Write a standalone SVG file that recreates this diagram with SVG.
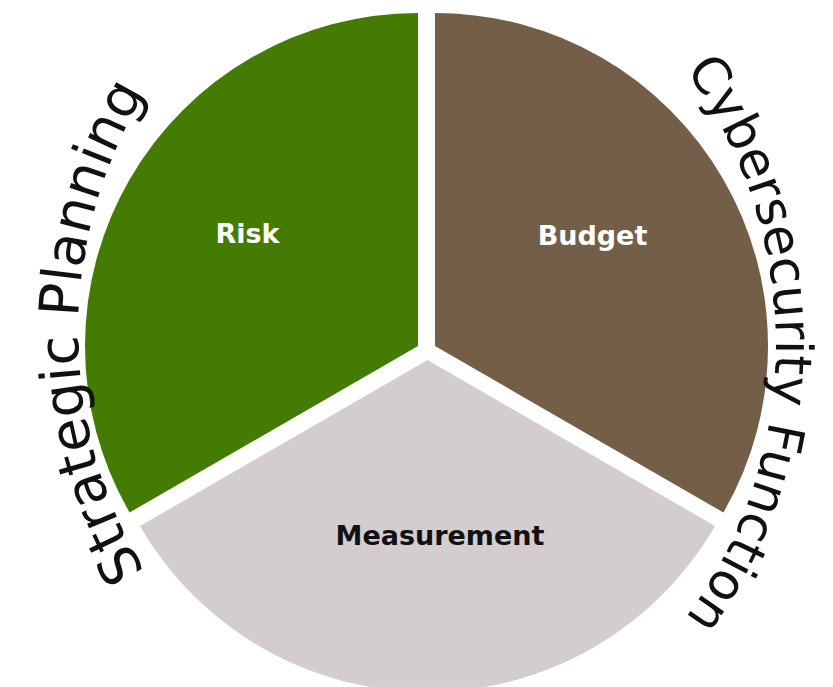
<svg xmlns="http://www.w3.org/2000/svg" width="833" height="687" viewBox="0 0 833 687">
  <style>
    .lbl { font-family: "DejaVu Sans", Verdana, sans-serif; font-weight: bold; font-size: 27px; text-anchor: middle; }
    .arc { font-family: "DejaVu Sans", Verdana, sans-serif; fill: #111111; }
  </style>
  <defs>
    <path id="leftArc" d="M 538,792 A 460,460 0 0 1 538,-128"/>
    <path id="rightArc" d="M 316,-116 A 460,460 0 0 1 316,804"/>
  </defs>
  <rect width="833" height="687" fill="#ffffff"/>
  <g id="risk">
    <path d="M 418,346 L 418,13 A 333,333 0 0 0 129.6,512.5 Z" fill="#447c03"/>
    <text class="lbl" x="247.5" y="243" fill="#ffffff">Risk</text>
  </g>
  <g id="budget">
    <path d="M 435,346 L 435,13 A 333,333 0 0 1 723.4,512.5 Z" fill="#735f48"/>
    <text class="lbl" x="592.5" y="245" fill="#ffffff">Budget</text>
  </g>
  <g id="measurement">
    <path d="M 427.5,360 L 715,526 A 332,332 0 0 1 140,526 Z" fill="#d3cdd0"/>
    <text class="lbl" x="440" y="545" fill="#111111">Measurement</text>
  </g>
  <g id="strategic-planning">
    <text class="arc" font-size="55"><textPath href="#leftArc" startOffset="50%" text-anchor="middle">Strategic Planning</textPath></text>
  </g>
  <g id="cybersecurity-function">
    <text class="arc" font-size="51"><textPath href="#rightArc" startOffset="50%" text-anchor="middle">Cybersecurity Function</textPath></text>
  </g>
</svg>
